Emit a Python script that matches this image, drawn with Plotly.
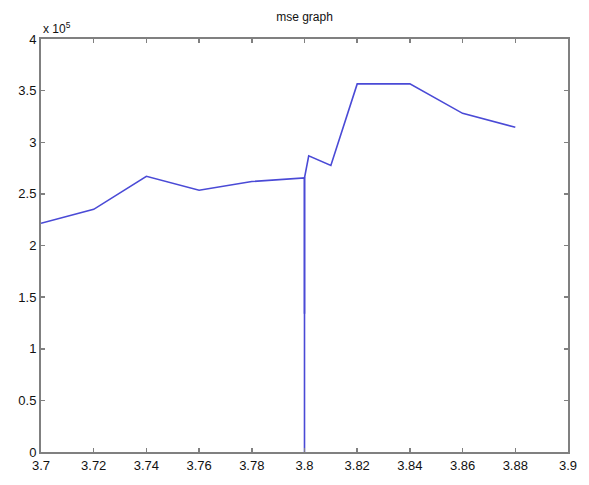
import plotly.graph_objects as go

# MSE values in units of 1e5 (axis shows "x 10^5")
x_vals = [3.70, 3.72, 3.74, 3.76, 3.78, 3.80, 3.80, None, 3.80, 3.80, 3.8016, 3.81, 3.82, 3.84, 3.86, 3.88]
mse_e5 = [2.215, 2.350, 2.670, 2.535, 2.620, 2.655, 0.0, None, 1.34, 2.655, 2.868, 2.775, 3.565, 3.565, 3.280, 3.145]

x_ticks = [3.70, 3.72, 3.74, 3.76, 3.78, 3.80, 3.82, 3.84, 3.86, 3.88, 3.90]
x_ticktext = ["3.7", "3.72", "3.74", "3.76", "3.78", "3.8", "3.82", "3.84", "3.86", "3.88", "3.9"]
y_ticks = [0, 0.5, 1, 1.5, 2, 2.5, 3, 3.5, 4]
y_ticktext = ["0", "0.5", "1", "1.5", "2", "2.5", "3", "3.5", "4"]

line_color = "#4a4ad6"
axis_color = "#808080"
font_family = "Liberation Sans, Arial, sans-serif"

fig = go.Figure()
fig.add_trace(go.Scatter(
    x=x_vals, y=mse_e5, mode="lines", connectgaps=False,
    line=dict(color=line_color, width=1.6),
    showlegend=False, hoverinfo="skip",
))

axis_common = dict(
    showgrid=False, zeroline=False, showline=True, linecolor=axis_color, linewidth=2,
    mirror="ticks", ticks="inside", ticklen=4, tickwidth=1.5, tickcolor=axis_color,
    tickfont=dict(family=font_family, size=13, color="#111111"),
)

fig.update_layout(
    width=589, height=485,
    margin=dict(l=41, r=13, t=39, b=24),
    paper_bgcolor="white", plot_bgcolor="white",
    title=dict(text="mse graph", x=0.5, xref="paper", xanchor="center",
               y=1 - 17 / 485, yref="container", yanchor="middle",
               font=dict(family=font_family, size=12, color="#111111")),
    xaxis=dict(range=[3.70, 3.90], tickvals=x_ticks, ticktext=x_ticktext, **axis_common),
    yaxis=dict(range=[0, 4], tickvals=y_ticks, ticktext=y_ticktext, **axis_common),
    annotations=[dict(
        text="x 10<sup>5</sup>", xref="paper", yref="paper", x=0, y=1,
        xanchor="left", yanchor="bottom", yshift=1, showarrow=False,
        font=dict(family=font_family, size=12, color="#111111"),
    )],
)

fig.write_html(
    "out.html",
    config={"displayModeBar": False, "staticPlot": True},
    post_script="document.body.style.margin='0';document.body.style.overflow='hidden';",
)
